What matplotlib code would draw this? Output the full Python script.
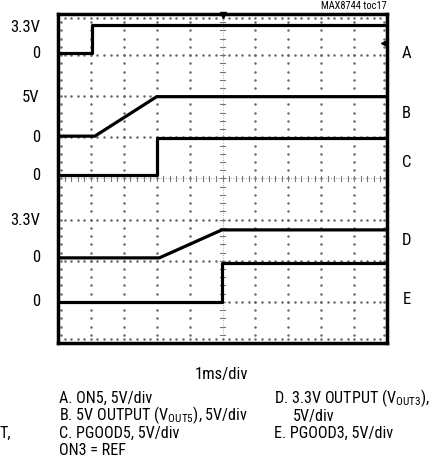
import numpy as np
import matplotlib
matplotlib.use("Agg")
import matplotlib.pyplot as plt

plt.rcParams['font.family'] = ['Roboto Condensed', 'Liberation Sans Narrow', 'Liberation Sans', 'DejaVu Sans']

# --- trace data (x and y in scope divisions) ---
a_x = [0, 1.02, 1.02, 10]
a_y = [7.05, 7.05, 7.74, 7.74]
b_x = [0, 1.12, 3.0, 10]
b_y = [5.03, 5.03, 5.99, 5.99]
c_x = [0, 3.0, 3.0, 10]
c_y = [4.09, 4.09, 4.99, 4.99]
d_x = [0, 3.08, 4.98, 10]
d_y = [2.07, 2.07, 2.75, 2.75]
e_x = [0, 4.98, 4.98, 10]
e_y = [1.0, 1.0, 1.95, 1.95]

level_labels = ["3.3V", "0", "5V", "0", "0", "3.3V", "0", "0"]
level_y = [7.68, 7.05, 5.98, 5.0, 4.08, 2.99, 2.09, 1.0]
trace_names = ["A", "B", "C", "D", "E"]
trace_name_y = [7.05, 5.59, 4.4, 2.5, 1.05]

fig = plt.figure(figsize=(4.42, 4.65), dpi=100)
ax = fig.add_axes([58 / 442, 1 - 343 / 465, 329 / 442, 329 / 465])
ax.set_xlim(0, 10)
ax.set_ylim(0, 8)
ax.set_xticks([])
ax.set_yticks([])
for s in ax.spines.values():
    s.set_linewidth(2.5)

# dotted scope graticule
xd = np.arange(0, 10.01, 0.2)
yd = np.arange(0, 8.01, 0.2)
for gx in [0.1, 1, 2, 3, 4, 6, 7, 8, 9, 9.9]:
    ax.plot(np.full(yd.size, gx), yd, ls='none', marker='.', ms=1.6, color='#666666')
for gy in [0.1, 1, 2, 3, 5, 6, 7, 7.9]:
    ax.plot(xd, np.full(xd.size, gy), ls='none', marker='.', ms=1.6, color='#666666')
# centre axes with minor ticks
ax.axvline(5, color='#888888', lw=0.6, ls=(0, (1, 2)))
ax.axhline(4, color='#888888', lw=0.6, ls=(0, (1, 2)))
for t in xd:
    ax.plot([t, t], [3.93, 4.07], color='#777777', lw=0.8)
for t in yd:
    ax.plot([4.93, 5.07], [t, t], color='#777777', lw=0.8)

for xs, ys in [(a_x, a_y), (b_x, b_y), (c_x, c_y), (d_x, d_y), (e_x, e_y)]:
    ax.plot(xs, ys, color='black', lw=2.3, solid_joinstyle='round')

# trigger markers
ax.plot([5], [7.97], marker='v', ms=4, color='black', clip_on=False)
ax.plot([9.92], [7.3], marker='<', ms=4, color='black', clip_on=False)

for lab, y in zip(level_labels, level_y):
    ax.text(-0.55, y, lab, ha='right', va='center', fontsize=12)
for lab, y in zip(trace_names, trace_name_y):
    ax.text(10.6, y, lab, ha='center', va='center', fontsize=12)

fig.text(387 / 442, 1 - 6 / 465, "MAX8744 toc17", ha='right', va='center', fontsize=7.5)
fig.text(222 / 442, 1 - 374 / 465, "1ms/div", ha='center', va='center', fontsize=12)

left_lines = ["A. ON5, 5V/div", r"B. 5V OUTPUT (V$_{\mathregular{OUT5}}$), 5V/div",
              "C. PGOOD5, 5V/div", "ON3 = REF"]
right_lines = [r"D. 3.3V OUTPUT (V$_{\mathregular{OUT3}}$),", "5V/div", "E. PGOOD3, 5V/div"]
right_x = [274, 293, 274]
line_base = [403, 420.5, 438, 455]
for txt, y in zip(left_lines, line_base):
    fig.text(59 / 442, 1 - y / 465, txt, ha='left', va='baseline', fontsize=11.6)
for txt, x, y in zip(right_lines, right_x, line_base):
    fig.text(x / 442, 1 - y / 465, txt, ha='left', va='baseline', fontsize=11.6)
fig.text(0, 1 - 438 / 465, "T,", ha='left', va='baseline', fontsize=11.6)

fig.savefig("out.png", dpi=100)
